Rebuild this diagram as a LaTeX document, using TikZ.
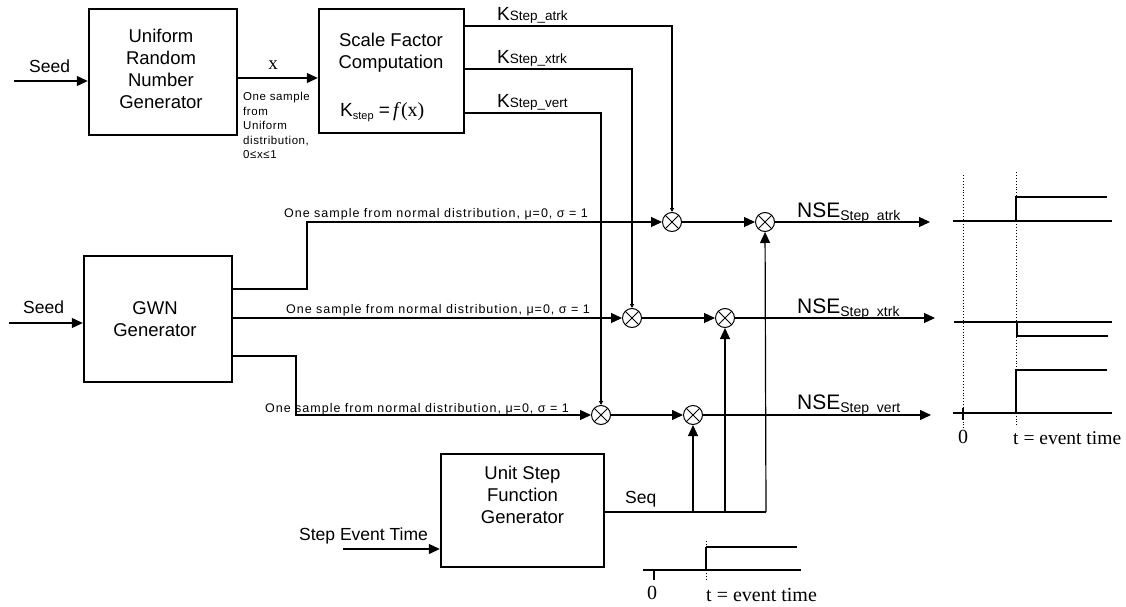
\documentclass[tikz,border=0pt]{standalone}
\usepackage{fontspec}
\setmainfont{Liberation Sans}
\newfontfamily\tmsfont{Liberation Serif}
\newfontfamily\spacedfont[LetterSpace=8]{Liberation Sans}
\newfontfamily\spacedsmall[LetterSpace=5]{Liberation Sans}
\usetikzlibrary{arrows.meta, positioning, calc}
\tikzstyle{block} = [rectangle, draw=black, line width=2.4pt, inner sep=0pt]
\tikzstyle{blocktext} = [align=center, inner sep=0pt, font=\fontsize{18.5}{22}\selectfont]
\tikzstyle{inlabel} = [anchor=base west, inner sep=0pt, font=\fontsize{17.5}{20}\selectfont]
\tikzstyle{mult} = [circle, draw=black, line width=1pt, minimum size=19pt, inner sep=0pt,
  path picture={\draw[line width=0.8pt] (path picture bounding box.north west) -- (path picture bounding box.south east)
    (path picture bounding box.south west) -- (path picture bounding box.north east);}]
\tikzstyle{wire} = [line width=1.2pt]
\tikzstyle{arrow} = [line width=1.2pt, -{Triangle[length=11pt,width=10pt]}]
\tikzstyle{tinyarrow} = [line width=1.2pt, -{Triangle[length=4pt,width=4pt]}]
\tikzstyle{trace} = [line width=2.4pt]
\tikzstyle{timeline} = [line width=0.9pt, dotted]
\tikzstyle{samplelbl} = [anchor=base, inner sep=0pt, font=\spacedfont\fontsize{12.5}{14}\selectfont]
\tikzstyle{serifnum} = [anchor=base, inner sep=0pt, font=\tmsfont\fontsize{20}{22}\selectfont]

\begin{document}
\begin{tikzpicture}[x=1pt, y=-1pt]
    \useasboundingbox (0,0) rectangle (1126,607);

    % generator blocks
    \node (urng) [block, minimum width=148pt, minimum height=126pt] at (163,72) {};
    \node (urngtxt) [blocktext] at (161,69) {Uniform\\Random\\Number\\Generator};
    \node (sfc) [block, minimum width=145pt, minimum height=124pt] at (391.5,71) {};
    \node (sfctxt) [blocktext] at (391,53) {Scale Factor\\Computation};
    \node (kform) [anchor=base west, inner sep=0pt] at (340,117)
        {\fontsize{19}{19}\selectfont K\raisebox{-3pt}{\fontsize{11}{11}\selectfont step} =\,{\tmsfont\fontsize{20}{20}\selectfont\textit{f}(x)}};
    \node (gwn) [block, minimum width=148pt, minimum height=126pt] at (158,319) {};
    \node (gwntxt) [blocktext] at (155,319) {GWN\\Generator};
    \node (usfg) [block, minimum width=163pt, minimum height=113pt] at (522.5,510.5) {};
    \node (usfgtxt) [blocktext] at (522.5,495) {Unit Step\\Function\\Generator};

    % inputs
    \node (seedA) [inlabel] at (29,73) {Seed};
    \node (seedB) [inlabel] at (23,313) {Seed};
    \node (evtime) [inlabel] at (299,540) {Step Event Time};
    \coordinate (seedAin) at (14,81);
    \coordinate (seedBin) at (9,323);
    \coordinate (evin) at (343,549);
    \draw [arrow] (seedAin) -- (urng.west |- seedAin);
    \draw [arrow] (seedBin) -- (gwn.west |- seedBin);
    \draw [arrow] (evin) -- (usfg.west |- evin);

    % uniform sample
    \coordinate (xrow) at (300,78);
    \draw [arrow] (urng.east |- xrow) -- (sfc.west |- xrow);
    \node (xlbl) [serifnum, font=\tmsfont\fontsize{19}{20}\selectfont] at (273,70) {x};
    \node (unilbl) [anchor=north west, align=left, inner sep=0pt, font=\spacedsmall\fontsize{11.5}{14.5}\selectfont]
        at (243,92) {One sample\\from\\Uniform\\distribution,\\0≤x≤1};

    % multipliers
    \node (mA1) [mult] at (672,222) {};
    \node (mA2) [mult] at (765,222) {};
    \node (mX1) [mult] at (632,318) {};
    \node (mX2) [mult] at (725,318) {};
    \node (mV1) [mult] at (601,415) {};
    \node (mV2) [mult] at (693,415) {};

    % scale factors
    \node (kA) [anchor=base west, inner sep=0pt] at (497,21) {\fontsize{19}{19}\selectfont K\fontsize{13.5}{14}\selectfont Step\_atrk};
    \node (kX) [anchor=base west, inner sep=0pt] at (497,64) {\fontsize{19}{19}\selectfont K\fontsize{13.5}{14}\selectfont Step\_xtrk};
    \node (kV) [anchor=base west, inner sep=0pt] at (497,108) {\fontsize{19}{19}\selectfont K\fontsize{13.5}{14}\selectfont Step\_vert};
    \draw [tinyarrow] (463,26) -| (mA1.north);
    \draw [tinyarrow] (463,69) -| (mX1.north);
    \draw [tinyarrow] (463,113) -| (mV1.north);

    % normal samples
    \draw [arrow] (gwn.east |- 0,289) -- (307,289) -- (307,222) -- (mA1);
    \draw [arrow] (gwn.east |- mX1) -- (mX1);
    \draw [arrow] (gwn.east |- 0,356) -- (296,356) -- (296,415) -- (mV1);
    \node (nA) [samplelbl] at (436,217) {One sample from normal distribution, μ=0, σ = 1};
    \node (nX) [samplelbl] at (438,313) {One sample from normal distribution, μ=0, σ = 1};
    \node (nV) [samplelbl] at (417,412) {One sample from normal distribution, μ=0, σ = 1};

    % products
    \draw [arrow] (mA1) -- (mA2);
    \draw [arrow] (mX1) -- (mX2);
    \draw [arrow] (mV1) -- (mV2);
    \coordinate (outA) at (930,222);
    \coordinate (outX) at (935,318);
    \coordinate (outV) at (931,415);
    \draw [arrow] (mA2) -- (outA);
    \draw [arrow] (mX2) -- (outX);
    \draw [arrow] (mV2) -- (outV);
    \node (nseA) [anchor=base west, inner sep=0pt] at (797,217) {\fontsize{21}{21}\selectfont NSE\raisebox{-3pt}{\fontsize{14}{14}\selectfont Step\_atrk}};
    \node (nseX) [anchor=base west, inner sep=0pt] at (797,313) {\fontsize{21}{21}\selectfont NSE\raisebox{-3pt}{\fontsize{14}{14}\selectfont Step\_xtrk}};
    \node (nseV) [anchor=base west, inner sep=0pt] at (797,409) {\fontsize{21}{21}\selectfont NSE\raisebox{-3pt}{\fontsize{14}{14}\selectfont Step\_vert}};

    % unit step sequence
    \coordinate (seqR) at (766,512);
    \node (seqlbl) [inlabel] at (625,503) {Seq};
    \draw [wire] (usfg.east |- seqR) -- (seqR);
    \draw [arrow] (mV2 |- seqR) -- (mV2);
    \draw [arrow] (mX2 |- seqR) -- (mX2);
    \draw [arrow] (seqR) -- (mA2);

    % step sketch under the generator
    \draw [wire] (643,570) -- (801,570);
    \draw [wire] (706,547) -- (797,547);
    \draw [wire] (654,570) -- (654,580);
    \draw [trace] (654,570) -- (706,570) -- (706,547);
    \draw [timeline] (706,541) -- (706,580);
    \node (zeroB) [serifnum] at (652,599) {0};
    \node (evB) [serifnum, anchor=base west] at (706,601) {t = event time};

    % output sketches
    \draw [timeline] (963,175) -- (963,430);
    \draw [timeline] (1016,172) -- (1016,427);
    \draw [wire] (953,221) -- (1112,221);
    \draw [trace] (1016,221) -- (1016,197) -- (1107,197);
    \draw [wire] (954,322) -- (1112,322);
    \draw [trace] (965,322) -- (1017,322) -- (1017,336) -- (1108,336);
    \draw [wire] (953,413) -- (1112,413);
    \draw [wire] (963,408) -- (963,420);
    \draw [trace] (963,413) -- (1016,413) -- (1016,370) -- (1107,370);
    \node (zeroR) [serifnum] at (963,443) {0};
    \node (evR) [serifnum, anchor=base west, font=\tmsfont\fontsize{19.5}{22}\selectfont] at (1013,444) {t = event time};
\end{tikzpicture}
\end{document}
